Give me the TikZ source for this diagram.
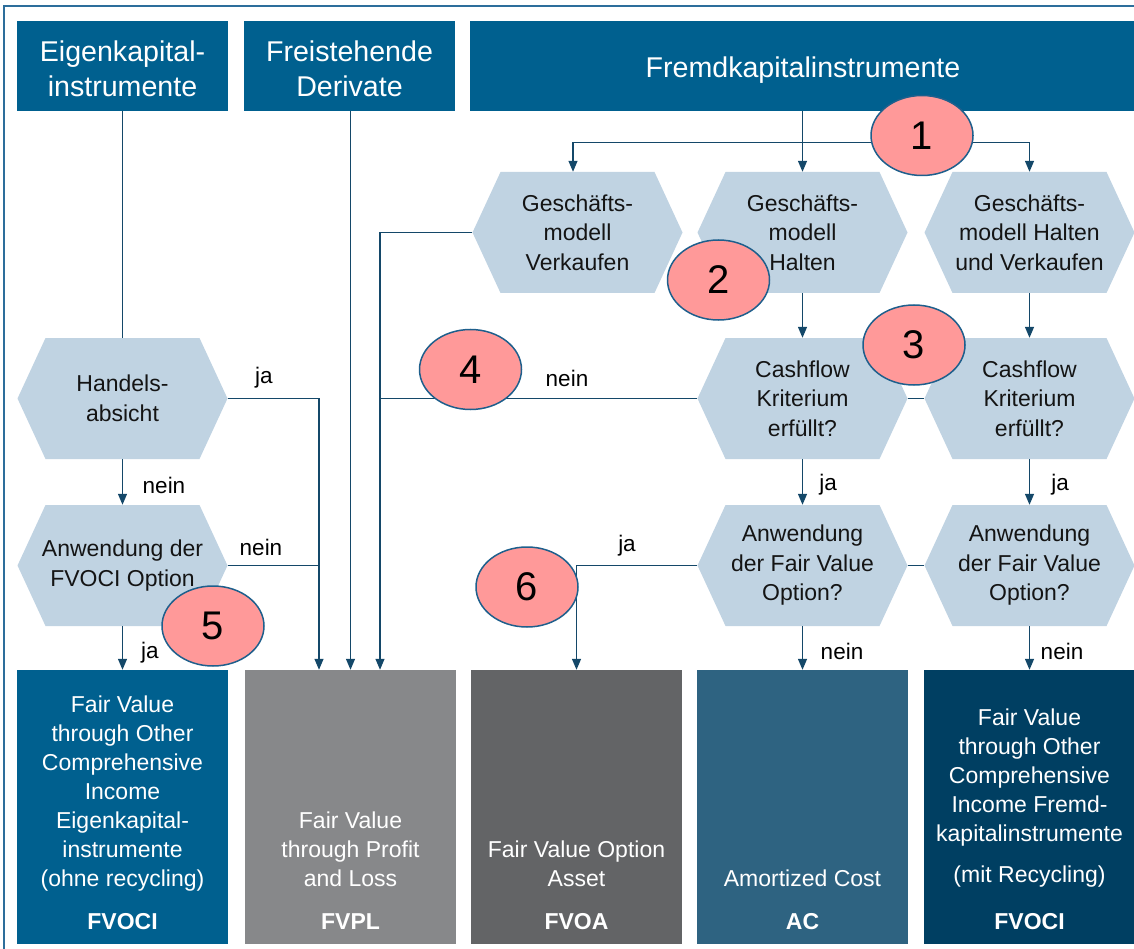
\documentclass[tikz,border=0pt]{standalone}
\usepackage{fontspec}
\setmainfont{Liberation Sans}
\usetikzlibrary{arrows.meta,shapes.geometric}

\definecolor{headblue}{RGB}{0,96,143}
\definecolor{hexfill}{RGB}{192,211,226}
\definecolor{linecol}{RGB}{20,72,105}
\definecolor{markfill}{RGB}{255,153,153}
\definecolor{markline}{RGB}{30,95,140}
\definecolor{framecol}{RGB}{45,110,155}
\definecolor{fvplgray}{RGB}{135,136,138}
\definecolor{fvoagray}{RGB}{99,100,102}
\definecolor{acblue}{RGB}{46,99,129}
\definecolor{debtblue}{RGB}{0,63,98}
\definecolor{hextext}{RGB}{20,20,20}

\newcommand\hdfont{\fontsize{28.6}{35}\selectfont}
\newcommand\hexfont{\fontsize{23}{29.5}\selectfont}
\newcommand\boxfont{\fontsize{23}{29}\selectfont}
\newcommand\lblfont{\fontsize{22.5}{27}\selectfont}
\newcommand\numfont{\fontsize{40}{44}\selectfont}

% hexagonal decision box: name, x, y, text
\newcommand\hexnode[4]{%
  \fill[hexfill] ({#2-105},#3) -- ({#2-77},{#3-60.5}) -- ({#2+77},{#3-60.5})
    -- ({#2+105},#3) -- ({#2+77},{#3+60.5}) -- ({#2-77},{#3+60.5}) -- cycle;
  \node[hexlabel] (#1) at (#2,#3) {#4};}

\begin{document}
\begin{tikzpicture}[x=1pt,y=-1pt,
  header/.style={fill=headblue, minimum height=90pt, inner sep=0pt},
  headtext/.style={text=white, inner sep=0pt, align=center, font=\hdfont},
  hexlabel/.style={minimum width=210pt, minimum height=121pt, inner sep=0pt,
    align=center, font=\hexfont, text=hextext},
  result/.style={minimum width=211pt, minimum height=274pt, inner sep=0pt},
  restext/.style={text=white, align=center, font=\boxfont, inner sep=0pt},
  reskey/.style={text=white, font=\boxfont\bfseries, inner sep=0pt},
  flow/.style={draw=linecol, line width=1.3pt},
  arr/.style={flow, -{Triangle[length=11pt,width=9pt]}},
  answer/.style={font=\lblfont, inner sep=0pt},
  marker/.style={ellipse, fill=markfill, draw=markline, line width=1.5pt,
    minimum width=102pt, minimum height=80pt, inner sep=0pt, font=\numfont}
]
\useasboundingbox (0,0) rectangle (1134,949);

% frame
\draw[framecol, line width=1.2pt] (4,949) -- (4,6) -- (1134,6);

% headers
\node[header, minimum width=211pt] (eigen) at (122.5,66) {};
\node[header, minimum width=211pt] (deriv) at (349.5,66) {};
\node[header, minimum width=666pt] (fremd) at (803,66) {};
\node[headtext] (eigenT) at (122.5,68.5) {Eigenkapital-\\instrumente};
\node[headtext] (derivT) at (349.5,68.5) {Freistehende\\Derivate};
\node[headtext] (fremdT) at (803,70.5) {Fremdkapitalinstrumente};

% decision boxes
\hexnode{handel}{122.5}{398.5}{Handels-\\absicht}
\hexnode{fvociopt}{122.5}{565.5}{Anwendung der\\FVOCI Option}
\hexnode{verk}{577.5}{232.5}{Geschäfts-\\modell\\Verkaufen}
\hexnode{halten}{802.5}{232.5}{Geschäfts-\\modell\\Halten}
\hexnode{hv}{1029.5}{232.5}{Geschäfts-\\modell Halten\\und Verkaufen}
\hexnode{cfa}{802.5}{398.5}{Cashflow\\Kriterium\\erfüllt?}
\hexnode{cfb}{1029.5}{398.5}{Cashflow\\Kriterium\\erfüllt?}
\hexnode{fvoa}{802.5}{565.5}{Anwendung\\der Fair Value\\Option?}
\hexnode{fvob}{1029.5}{565.5}{Anwendung\\der Fair Value\\Option?}

% result categories
\node[result, fill=headblue] (rEq) at (122.5,807) {};
\node[result, fill=fvplgray] (rPL) at (350.5,807) {};
\node[result, fill=fvoagray] (rOA) at (576.5,807) {};
\node[result, fill=acblue] (rAC) at (802.5,807) {};
\node[result, fill=debtblue] (rDebt) at (1029.5,807) {};

\node[restext] (tEq) at (122.5,793.5) {Fair Value\\through Other\\Comprehensive\\Income\\Eigenkapital-\\instrumente\\(ohne recycling)};
\node[restext] (tPL) at (350.5,849) {Fair Value\\through Profit\\and Loss};
\node[restext] (tOA) at (576.5,864) {Fair Value Option\\Asset};
\node[restext] (tAC) at (802.5,878) {Amortized Cost};
\node[restext] (tDebt) at (1029.5,777.5) {Fair Value\\through Other\\Comprehensive\\Income Fremd-\\kapitalinstrumente};
\node[restext] (tDebtR) at (1029.5,877) {(mit Recycling)};

\node[reskey] (kEq) at (122.5,922) {FVOCI};
\node[reskey] (kPL) at (350.5,922) {FVPL};
\node[reskey] (kOA) at (576.5,922) {FVOA};
\node[reskey] (kAC) at (802.5,922) {AC};
\node[reskey] (kDebt) at (1029.5,922) {FVOCI};

% connectors
\coordinate (plA) at ([xshift=-31.5pt]rPL.north);
\coordinate (plC) at ([xshift=29.5pt]rPL.north);
\coordinate (split) at (802.5,142.5);

\draw[flow] (eigen.south) -- (handel.north);
\draw[arr] (handel.south) -- (fvociopt.north);
\draw[arr] (fvociopt.south) -- (rEq.north);
\draw[arr] (handel.east) -| (plA);
\draw[flow] (fvociopt.east) -- (fvociopt.east -| plA);
\draw[arr] (deriv.south -| rPL.north) -- (rPL.north);

\draw[arr] (halten.north |- fremd.south) -- (halten.north);
\draw[arr] (split) -| ([xshift=-4.5pt]verk.north);
\draw[arr] (split) -| (hv.north);
\draw[arr] (verk.west) -| (plC);
\draw[flow] (cfa.west) -- (cfa.west -| plC);

\draw[arr] (halten.south) -- (cfa.north);
\draw[arr] (hv.south) -- (cfb.north);
\draw[flow] (cfa.east) -- (cfb.west);
\draw[arr] (cfa.south) -- (fvoa.north);
\draw[arr] (cfb.south) -- (fvob.north);
\draw[flow] (fvoa.east) -- (fvob.west);
\draw[arr] (fvoa.west) -| (rOA.north);
\draw[arr] (fvoa.south) -- (rAC.north);
\draw[arr] (fvob.south) -- (rDebt.north);

% answers
\node[answer] (a1) at (264,378) {ja};
\node[answer] (a2) at (164,485) {nein};
\node[answer] (a3) at (261,547) {nein};
\node[answer] (a4) at (150,653) {ja};
\node[answer] (a5) at (567,378) {nein};
\node[answer] (a6) at (828,485) {ja};
\node[answer] (a7) at (1060,485) {ja};
\node[answer] (a8) at (627,546) {ja};
\node[answer] (a9) at (842,651) {nein};
\node[answer] (a10) at (1062,651) {nein};

% numbered markers
\node[marker] (m1) at (922,135.5) {1};
\node[marker] (m2) at (718.5,280) {2};
\node[marker] (m3) at (914,345) {3};
\node[marker] (m4) at (470.5,369.5) {4};
\node[marker] (m5) at (213,626) {5};
\node[marker] (m6) at (527,587) {6};
\end{tikzpicture}
\end{document}
